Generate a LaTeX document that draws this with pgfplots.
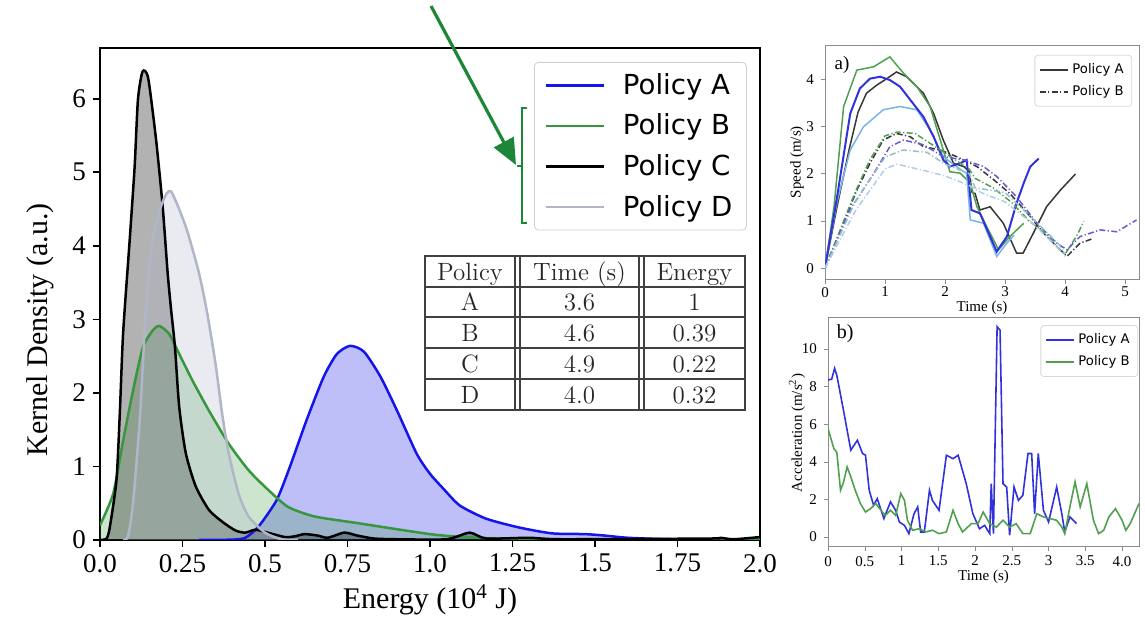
\documentclass[border=0pt]{standalone}
\usepackage{fontspec}
\setmainfont{Liberation Serif}
\newfontfamily\dejavu{DejaVu Sans}
\newfontfamily\cmfont{Latin Modern Roman}
\usepackage{pgfplots}
\pgfplotsset{compat=1.18}
\usetikzlibrary{arrows.meta}

\definecolor{cA}{RGB}{20,20,235}
\definecolor{cB}{RGB}{56,150,62}
\definecolor{cC}{RGB}{0,0,0}
\definecolor{cD}{RGB}{176,182,200}
\definecolor{arr}{RGB}{30,135,55}
% speed / acceleration traces
\definecolor{sK}{RGB}{55,55,55}
\definecolor{sG}{RGB}{80,160,80}
\definecolor{sB}{RGB}{50,50,220}
\definecolor{sL}{RGB}{120,180,230}
\definecolor{sP}{RGB}{100,90,210}
\definecolor{sT}{RGB}{150,190,205}
\definecolor{sU}{RGB}{175,205,230}

% kernel density estimates (energy in 1e4 J)
\pgfplotstableread{
x y
0.30 0
0.40 0.005
0.44 0.03
0.48 0.18
0.535 0.54
0.575 0.99
0.626 1.63
0.678 2.22
0.718 2.53
0.758 2.64
0.80 2.56
0.85 2.22
0.90 1.76
0.96 1.17
1.00 0.90
1.04 0.70
1.09 0.47
1.17 0.29
1.27 0.17
1.37 0.09
1.47 0.08
1.53 0.06
1.60 0.03
1.73 0.01
2.00 0
}\polA
\pgfplotstableread{
x y
0.00 0.20
0.04 0.63
0.07 1.35
0.10 2.03
0.13 2.62
0.16 2.85
0.18 2.91
0.21 2.80
0.24 2.53
0.28 2.17
0.33 1.76
0.39 1.31
0.45 0.95
0.51 0.68
0.57 0.45
0.65 0.32
0.78 0.23
0.88 0.16
1.00 0.08
1.07 0.05
1.20 0.02
1.40 0.005
2.00 0
}\polB
\pgfplotstableread{
x y
0.00 0
0.02 0.02
0.03 0.18
0.05 0.82
0.06 1.72
0.07 2.81
0.09 4.08
0.105 5.08
0.115 5.99
0.129 6.37
0.146 6.28
0.17 5.44
0.19 4.53
0.205 3.63
0.215 3.15
0.227 2.63
0.24 1.81
0.26 1.18
0.29 0.73
0.33 0.41
0.37 0.25
0.41 0.13
0.44 0.10
0.47 0.14
0.50 0.11
0.56 0.04
0.59 0.05
0.62 0.08
0.66 0.06
0.69 0.03
0.74 0.10
0.78 0.06
0.83 0.02
0.90 0.01
1.05 0.01
1.12 0.10
1.17 0.02
1.30 0.03
1.40 0.01
1.85 0.02
1.88 0.03
1.92 0.01
2.00 0.04
}\polC
\pgfplotstableread{
x y
0.07 0
0.085 0.05
0.10 0.50
0.12 1.60
0.14 3.20
0.16 4.10
0.19 4.60
0.215 4.74
0.26 4.26
0.30 3.63
0.325 3.08
0.35 2.40
0.37 1.72
0.39 1.18
0.42 0.63
0.45 0.32
0.50 0.10
0.55 0.01
0.60 0
}\polD

\begin{document}
\begin{tikzpicture}[x=0.5pt,y=0.5pt]
\path[use as bounding box] (0,0) rectangle (1145,619);

\begin{axis}[
  at={(50pt,39.5pt)}, anchor=south west, scale only axis,
  width=330pt, height=246pt,
  xmin=0, xmax=2, ymin=0, ymax=6.69,
  xtick={0,0.25,0.5,0.75,1,1.25,1.5,1.75,2},
  xticklabels={0.0,0.25,0.5,0.75,1.0,1.25,1.5,1.75,2.0},
  ytick={0,1,2,3,4,5,6},
  tick align=outside, xtick pos=left, ytick pos=left,
  major tick length=3.5pt,
  tick style={black, line width=0.8pt},
  axis line style={line width=0.8pt},
  tick label style={font=\fontsize{13.5}{15}\selectfont},
  label style={font=\fontsize{15}{17}\selectfont},
  /pgf/number format/assume math mode=true,
  xlabel={Energy (10\textsuperscript{4} J)},
  ylabel={Kernel Density (a.u.)},
  xlabel style={at={(axis description cs:0.5,-0.122)}, anchor=center},
  ylabel style={at={(axis description cs:-0.091,0.427)}, anchor=center},
  legend style={at={(0.98,0.9715)}, anchor=north east, draw=black!18,
    rounded corners=2pt, font=\dejavu\fontsize{13.8}{16}\selectfont,
    row sep=4.3pt, inner xsep=5pt, inner ysep=3.5pt, cells={anchor=west},
    /tikz/every odd column/.append style={column sep=7pt}},
  legend image code/.code={\draw[#1, line width=1.25pt] (0pt,0pt) -- (29pt,0pt);},
]
\addplot[draw=none, fill=cA, fill opacity=0.28, smooth, tension=0.4, forget plot] table {\polA} \closedcycle;
\addplot[draw=none, fill=cB, fill opacity=0.25, smooth, tension=0.4, forget plot] table {\polB} \closedcycle;
\addplot[draw=none, fill=cC, fill opacity=0.30, smooth, tension=0.4, forget plot] table {\polC} \closedcycle;
\addplot[draw=none, fill=cD, fill opacity=0.28, smooth, tension=0.4, forget plot] table {\polD} \closedcycle;
\addplot[cA, line width=1.25pt, smooth, tension=0.4] table {\polA};
\addlegendentry{Policy A}
\addplot[cB, line width=1.25pt, smooth, tension=0.4] table {\polB};
\addlegendentry{Policy B}
\addplot[cC, line width=1.25pt, smooth, tension=0.4] table {\polC};
\addlegendentry{Policy C}
\addplot[cD, line width=1.25pt, smooth, tension=0.4] table {\polD};
\addlegendentry{Policy D}
\end{axis}

% summary table
\begin{scope}[black!75, line width=0.7pt]
\draw (425,363) rectangle (745,209);
\foreach \yy in {332,302,271,240} \draw (425,\yy) -- (745,\yy);
\foreach \xx in {515,520,639,644} \draw (\xx,363) -- (\xx,209);
\end{scope}
\begin{scope}[every node/.style={anchor=base, font=\cmfont\fontsize{12.5}{15}\selectfont, inner sep=0pt, text=black!85}]
\node at (470,338.5) {Policy};  \node at (579.5,338.5) {Time (s)}; \node at (694.5,338.5) {Energy};
\node at (470,308) {A}; \node at (579.5,308) {3.6}; \node at (694.5,308) {1};
\node at (470,277.5) {B}; \node at (579.5,277.5) {4.6}; \node at (694.5,277.5) {0.39};
\node at (470,246.5) {C}; \node at (579.5,246.5) {4.9}; \node at (694.5,246.5) {0.22};
\node at (470,215.5) {D}; \node at (579.5,215.5) {4.0}; \node at (694.5,215.5) {0.32};
\end{scope}

% annotation arrow and bracket
\draw[arr, line width=1.6pt, -{Triangle[length=13pt,width=11pt]}] (431,613) -- (516,454);
\draw[arr, line width=0.6pt] (527,511) -- (522,511) -- (522,396) -- (527,396);
\draw[arr, line width=0.6pt] (522,453) -- (517,453);

% a) speed
\begin{axis}[
  at={(412.5pt,169.5pt)}, anchor=south west, scale only axis,
  width=157pt, height=117pt,
  xmin=0, xmax=5.23, ymin=-0.25, ymax=4.7,
  xtick={0,1,2,3,4,5}, ytick={0,1,2,3,4},
  tick align=outside, xtick pos=left, ytick pos=left,
  major tick length=2pt,
  axis line style={black!45, line width=0.5pt},
  tick style={black!45},
  tick label style={font=\fontsize{7.5}{8}\selectfont},
  xticklabel style={yshift=2pt},
  label style={font=\fontsize{7.5}{8}\selectfont},
  /pgf/number format/assume math mode=true,
  xlabel={Time (s)}, ylabel={Speed (m/s)},
  xlabel style={at={(axis description cs:0.5,-0.118)}, anchor=center},
  ylabel style={at={(axis description cs:-0.089,0.504)}, anchor=center},
  legend style={at={(0.978,0.962)}, anchor=north east, draw=black!15,
    rounded corners=1.5pt, font=\dejavu\fontsize{6.6}{7.5}\selectfont,
    row sep=0.5pt, inner sep=2pt, cells={anchor=west}},
  legend image code/.code={\draw[#1, line width=0.8pt] (0pt,0pt) -- (14pt,0pt);},
  every axis plot/.append style={line width=0.75pt},
]
\addplot[sK] coordinates {(0,0)(0.2,1.3)(0.4,2.5)(0.55,3.3)(0.69,3.70)(0.86,3.87)(1.03,4.01)(1.19,4.15)(1.36,4.05)(1.64,3.70)(1.81,3.27)(1.97,2.71)(2.14,2.22)(2.31,2.15)(2.40,2.05)(2.45,1.6)(2.50,1.58)(2.58,1.23)(2.75,1.30)(2.97,0.95)(3.19,0.32)(3.30,0.32)(3.47,0.74)(3.69,1.30)(3.92,1.65)(4.17,1.99)};
\addlegendentry{Policy A}
\addplot[sK, dash pattern=on 3pt off 1.2pt on 0.6pt off 1.2pt] coordinates {(0,0)(0.53,1.65)(0.75,2.22)(0.97,2.71)(1.19,2.85)(1.42,2.78)(1.64,2.57)(1.92,2.50)(2.19,2.36)(2.53,2.15)(2.81,1.87)(3.08,1.58)(3.42,1.09)(3.64,0.74)(3.86,0.46)(4.03,0.25)(4.25,0.53)(4.47,0.63)};
\addlegendentry{Policy B}
\addplot[sG, forget plot] coordinates {(0,0)(0.15,1.3)(0.31,3.42)(0.53,4.19)(0.81,4.26)(1.08,4.47)(1.31,4.12)(1.53,3.84)(1.75,3.42)(1.97,2.50)(2.08,2.04)(2.25,2.01)(2.42,1.80)(2.53,1.30)(2.75,0.74)(2.89,0.39)(3.08,0.67)(3.31,0.95)};
\addplot[sL, forget plot] coordinates {(0,0)(0.2,1.4)(0.42,2.5)(0.64,2.99)(0.97,3.35)(1.25,3.42)(1.53,3.35)(1.75,2.92)(1.97,2.36)(2.19,2.15)(2.36,2.0)(2.42,1.02)(2.64,0.95)(2.86,0.25)(3.03,0.53)(3.15,0.7)};
\addplot[sB, line width=1pt, forget plot] coordinates {(0,0)(0.2,1.5)(0.42,3.27)(0.58,3.80)(0.75,4.01)(0.92,4.05)(1.08,3.98)(1.25,3.84)(1.42,3.56)(1.64,3.20)(1.81,2.78)(1.97,2.29)(2.08,2.15)(2.25,2.22)(2.36,2.29)(2.44,1.23)(2.58,1.16)(2.75,0.67)(2.86,0.35)(3.03,0.67)(3.19,1.37)(3.31,1.80)(3.42,2.15)(3.56,2.32)};
\addplot[sG, dash pattern=on 3pt off 1.2pt on 0.6pt off 1.2pt, forget plot] coordinates {(0,0)(0.5,1.6)(0.75,2.3)(1.0,2.8)(1.2,2.88)(1.5,2.85)(1.8,2.6)(2.1,2.35)(2.4,2.1)(2.5,1.9)(2.8,1.7)(3.1,1.4)(3.4,1.0)(3.7,0.7)(3.9,0.4)(4.0,0.3)(4.2,0.7)(4.31,0.99)};
\addplot[sP, dash pattern=on 3pt off 1.2pt on 0.6pt off 1.2pt, forget plot] coordinates {(0,0)(0.4,1.2)(0.81,2.0)(1.08,2.57)(1.31,2.71)(1.64,2.61)(1.97,2.36)(2.31,2.29)(2.64,2.15)(2.86,1.94)(3.19,1.51)(3.53,0.95)(3.86,0.53)(4.03,0.39)(4.25,0.67)(4.58,0.81)(4.86,0.77)(5.19,1.02)};
\addplot[sT, dash pattern=on 3pt off 1.2pt on 0.6pt off 1.2pt, forget plot] coordinates {(0,0)(0.5,1.4)(1.0,2.35)(1.3,2.5)(1.7,2.45)(2.0,2.2)(2.4,2.0)(2.5,1.7)(3.0,1.6)(3.5,1.0)(3.9,0.5)(4.0,0.3)};
\addplot[sU, dash pattern=on 3pt off 1.2pt on 0.6pt off 1.2pt, forget plot] coordinates {(0,0)(0.5,1.2)(1.0,2.1)(1.2,2.2)(1.7,2.05)(2.0,1.95)(2.4,1.75)(2.6,1.6)(3.0,1.4)(3.5,0.9)(3.9,0.4)(4.0,0.25)};
\node[font=\fontsize{9.5}{10}\selectfont] at (rel axis cs:0.054,0.919) {a)};
\end{axis}

% b) acceleration
\begin{axis}[
  at={(414pt,36pt)}, anchor=south west, scale only axis,
  width=155.5pt, height=114.5pt,
  xmin=0, xmax=4.23, ymin=-0.53, ymax=11.65,
  xtick={0,0.5,1,1.5,2,2.5,3,3.5,4},
  xticklabels={0,0.5,1,1.5,2,2.5,3,3.5,4.0},
  ytick={0,2,4,6,8,10},
  tick align=outside, xtick pos=left, ytick pos=left,
  major tick length=2pt,
  axis line style={black!45, line width=0.5pt},
  tick style={black!45},
  tick label style={font=\fontsize{7.5}{8}\selectfont},
  xticklabel style={yshift=1pt},
  label style={font=\fontsize{7.5}{8}\selectfont},
  /pgf/number format/assume math mode=true,
  xlabel={Time (s)}, ylabel={Acceleration (m/s\textsuperscript{2})},
  xlabel style={at={(axis description cs:0.5,-0.13)}, anchor=center},
  ylabel style={at={(axis description cs:-0.10,0.498)}, anchor=center},
  legend style={at={(0.997,0.969)}, anchor=north east, draw=black!15,
    rounded corners=1.5pt, font=\dejavu\fontsize{6.6}{7.5}\selectfont,
    row sep=0.5pt, inner sep=2pt, cells={anchor=west}},
  legend image code/.code={\draw[#1, line width=0.8pt] (0pt,0pt) -- (14pt,0pt);},
  every axis plot/.append style={line width=0.8pt},
]
\addplot[sB] coordinates {(0,8.35)(0.05,8.4)(0.09,8.97)(0.12,8.6)(0.21,6.75)(0.31,4.62)(0.40,5.15)(0.47,4.44)(0.51,4.35)(0.56,2.49)(0.62,1.69)(0.67,2.04)(0.76,0.98)(0.85,1.87)(0.92,1.42)(0.97,0.8)(1.04,0.62)(1.10,0.18)(1.17,1.24)(1.22,1.6)(1.26,0.27)(1.31,0.27)(1.38,2.49)(1.42,1.95)(1.51,1.42)(1.61,4.35)(1.70,4.17)(1.77,4.35)(1.88,2.84)(1.97,1.24)(2.06,0.44)(2.13,0.62)(2.20,0.18)(2.22,2.84)(2.25,0.18)(2.30,11.19)(2.34,11.0)(2.38,2.84)(2.43,2.66)(2.47,0.09)(2.53,2.66)(2.59,1.95)(2.65,2.22)(2.72,4.44)(2.77,4.44)(2.81,1.24)(2.86,4.44)(2.93,1.42)(3.0,0.8)(3.11,2.66)(3.18,1.24)(3.22,0.27)(3.29,1.07)(3.36,0.8)(3.38,0.71)};
\addlegendentry{Policy A}
\addplot[sG] coordinates {(0,5.77)(0.08,4.7)(0.12,4.5)(0.17,2.49)(0.21,2.9)(0.26,3.73)(0.31,3.2)(0.37,2.49)(0.44,1.78)(0.51,1.33)(0.58,1.51)(0.65,1.78)(0.72,1.42)(0.78,1.15)(0.85,1.42)(0.92,1.15)(0.99,2.31)(1.04,1.95)(1.08,0.89)(1.15,0.36)(1.24,0.44)(1.33,0.27)(1.42,0.36)(1.51,0.18)(1.61,0.27)(1.70,1.42)(1.77,0.71)(1.83,0.27)(1.95,0.71)(2.04,0.71)(2.11,1.33)(2.20,0.71)(2.29,0.53)(2.38,0.89)(2.47,0.53)(2.56,0.71)(2.65,0.18)(2.75,0.18)(2.84,1.24)(2.93,1.07)(3.02,0.98)(3.11,0.89)(3.18,0.53)(3.22,0.18)(3.29,1.6)(3.36,2.93)(3.43,1.6)(3.52,2.84)(3.61,0.89)(3.68,0.18)(3.75,0.36)(3.82,1.07)(3.91,1.51)(4.0,0.89)(4.05,0.36)(4.11,0.71)(4.23,1.78)};
\addlegendentry{Policy B}
\node[font=\fontsize{10}{11}\selectfont] at (rel axis cs:0.055,0.93) {b)};
\end{axis}
\end{tikzpicture}
\end{document}
